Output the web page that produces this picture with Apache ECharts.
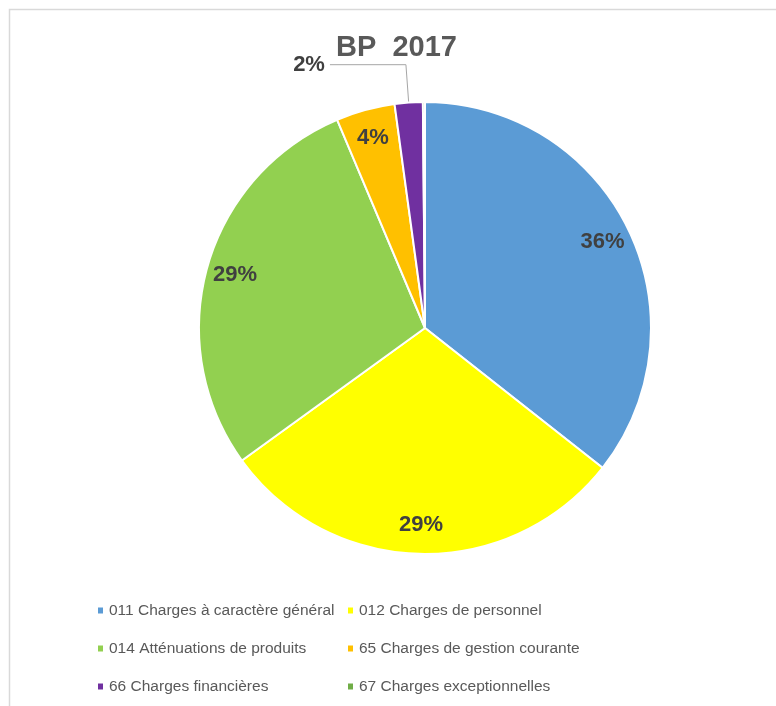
<!DOCTYPE html>
<html>
<head>
<meta charset="utf-8">
<script src="https://cdn.jsdelivr.net/npm/echarts@6/dist/echarts.min.js"></script>
<style>
  html, body { margin: 0; padding: 0; background: #fff; }
  #chart { width: 776px; height: 706px; }
</style>
</head>
<body>
<div id="chart"></div>
<script>
var categories = [
    '011 Charges à caractère général',
    '012 Charges de personnel',
    '014 Atténuations de produits',
    '65 Charges de gestion courante',
    '66 Charges financières',
    '67 Charges exceptionnelles'
];
var shares = [35.6, 29.4, 28.6, 4.2, 2.0, 0.15];
var colors = ['#5b9bd5', '#ffff00', '#92d050', '#ffc000', '#7030a0', '#70ad47'];
var titleText = 'BP  2017';

var font = '"Liberation Sans", Arial, sans-serif';
var R = 226;

var sliceData = categories.map(function (name, i) {
    return { name: name, value: shares[i], itemStyle: { color: colors[i] } };
});

// transparent copy, only used to place the percentage labels near the rim
var labelData = categories.map(function (name, i) {
    var item = { name: name, value: shares[i] };
    if (i === 4) {
        item.label = { position: 'outside' };
        item.labelLine = { show: true, length: 38, length2: 76 };
    } else if (i === 5) {
        item.label = { show: false };
    }
    return item;
});

var chart = echarts.init(document.getElementById('chart'));
var option = {
    backgroundColor: '#fff',
    animation: false,
    graphic: [{
        type: 'rect',
        shape: { x: 9.5, y: 9.5, width: 900, height: 900 },
        style: { fill: 'none', stroke: '#d9d9d9', lineWidth: 1.5 },
        silent: true
    }],
    title: {
        text: titleText,
        left: 336,
        top: 33,
        padding: 0,
        textStyle: { fontFamily: font, fontSize: 29, fontWeight: 'bold', color: '#595959' }
    },
    legend: {
        data: categories,
        left: 96,
        top: 597,
        width: 510,
        padding: 0,
        icon: 'rect',
        itemWidth: 7,
        itemHeight: 8,
        itemGap: 11,
        textStyle: { fontFamily: font, fontSize: 15.5, color: '#595959', width: 226, lineHeight: 27 }
    },
    series: [
        {
            name: 'BP 2017',
            type: 'pie',
            center: [425, 328],
            radius: [0, R],
            startAngle: 90,
            clockwise: true,
            silent: true,
            data: sliceData,
            label: { show: false },
            labelLine: { show: false },
            itemStyle: { borderColor: '#fff', borderWidth: 2 }
        },
        {
            name: 'labels',
            type: 'pie',
            center: [425, 328],
            radius: [R * 0.72, R],
            startAngle: 90,
            clockwise: true,
            silent: true,
            avoidLabelOverlap: false,
            percentPrecision: 0,
            data: labelData,
            itemStyle: { color: 'rgba(0,0,0,0)', borderWidth: 0 },
            label: {
                show: true,
                position: 'inside',
                formatter: '{d}%',
                fontFamily: font,
                fontSize: 22,
                fontWeight: 'bold',
                color: '#404040'
            },
            labelLine: { show: false, lineStyle: { color: '#a6a6a6', width: 1 } }
        }
    ]
};
chart.setOption(option);
</script>
</body>
</html>
